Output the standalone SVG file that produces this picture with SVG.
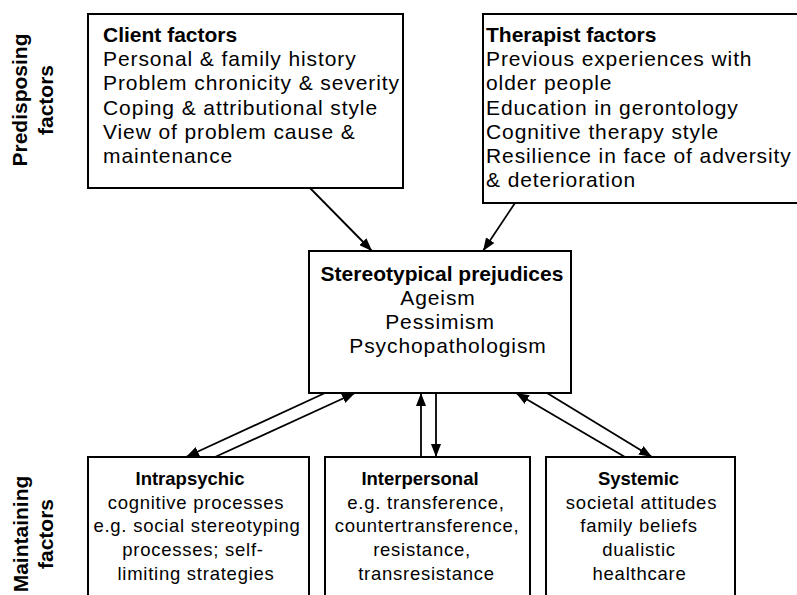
<svg xmlns="http://www.w3.org/2000/svg" width="797" height="595" viewBox="0 0 797 595">
<style>
.box{fill:#fff;stroke:#000;stroke-width:2}
text{font-family:"Liberation Sans",Arial,sans-serif;fill:#000}
.h{font-weight:bold;font-size:21px}
.t{font-size:21px;letter-spacing:0.9px}
.hs{font-weight:bold;font-size:18.5px}
.ts{font-size:18.5px;letter-spacing:0.75px}
.c{text-anchor:middle}
.side{font-weight:bold;font-size:21px;text-anchor:middle}
.arr{stroke:#000;stroke-width:1.8;fill:none;marker-end:url(#ah)}
</style>
<defs>
<marker id="ah" viewBox="0 0 13 10" refX="13" refY="5" markerWidth="13" markerHeight="10" markerUnits="userSpaceOnUse" orient="auto">
<path d="M0,0 L13,5 L0,10 z" fill="#000"/>
</marker>
</defs>
<rect width="797" height="595" fill="#fff"/>

<g id="label-predisposing">
<text class="side" transform="rotate(-90 27 100)" x="27" y="100">Predisposing</text>
<text class="side" transform="rotate(-90 53 100)" x="53" y="100">factors</text>
</g>
<g id="label-maintaining">
<text class="side" transform="rotate(-90 28 534)" x="28" y="534">Maintaining</text>
<text class="side" transform="rotate(-90 53 534)" x="53" y="534">factors</text>
</g>

<g id="client">
<rect class="box" x="88" y="14" width="315" height="174"/>
<text class="h" x="103" y="42">Client factors</text>
<text class="t" x="103" y="66">Personal &amp; family history</text>
<text class="t" x="103" y="90">Problem chronicity &amp; severity</text>
<text class="t" x="103" y="115">Coping &amp; attributional style</text>
<text class="t" x="103" y="139">View of problem cause &amp;</text>
<text class="t" x="103" y="163">maintenance</text>
</g>

<g id="therapist">
<rect class="box" x="483" y="14" width="320" height="189"/>
<text class="h" x="486" y="42">Therapist factors</text>
<text class="t" x="486" y="66">Previous experiences with</text>
<text class="t" x="486" y="90">older people</text>
<text class="t" x="486" y="115">Education in gerontology</text>
<text class="t" x="486" y="139">Cognitive therapy style</text>
<text class="t" x="486" y="163">Resilience in face of adversity</text>
<text class="t" x="486" y="187">&amp; deterioration</text>
</g>

<g id="prejudices">
<rect class="box" x="309" y="251" width="262" height="142"/>
<text class="h c" x="442" y="281">Stereotypical prejudices</text>
<text class="t c" x="438" y="305">Ageism</text>
<text class="t c" x="440" y="329">Pessimism</text>
<text class="t c" x="448" y="353">Psychopathologism</text>
</g>

<g id="intrapsychic">
<rect class="box" x="88" y="457" width="221" height="160"/>
<text class="hs c" x="190" y="485">Intrapsychic</text>
<text class="ts c" x="196" y="508.5">cognitive processes</text>
<text class="ts c" x="197" y="532">e.g. social stereotyping</text>
<text class="ts c" x="193" y="556">processes; self-</text>
<text class="ts c" x="196" y="580">limiting strategies</text>
</g>

<g id="interpersonal">
<rect class="box" x="325" y="457" width="205" height="160"/>
<text class="hs c" x="420" y="485">Interpersonal</text>
<text class="ts c" x="426" y="508.5">e.g. transference,</text>
<text class="ts c" x="427" y="532">countertransference,</text>
<text class="ts c" x="422" y="556">resistance,</text>
<text class="ts c" x="426.5" y="580">transresistance</text>
</g>

<g id="systemic">
<rect class="box" x="546" y="457" width="189" height="160"/>
<text class="hs c" x="638.5" y="485">Systemic</text>
<text class="ts c" x="641.5" y="508.5">societal attitudes</text>
<text class="ts c" x="639" y="532">family beliefs</text>
<text class="ts c" x="639" y="556">dualistic</text>
<text class="ts c" x="639.5" y="580">healthcare</text>
</g>

<g id="connectors">
<line class="arr" x1="310" y1="188" x2="372" y2="251"/>
<line class="arr" x1="515" y1="203" x2="483" y2="251"/>
<line class="arr" x1="325" y1="393" x2="186" y2="457"/>
<line class="arr" x1="215" y1="457" x2="355" y2="393"/>
<line class="arr" x1="421" y1="457" x2="421" y2="393"/>
<line class="arr" x1="436" y1="393" x2="436" y2="457"/>
<line class="arr" x1="625" y1="457" x2="516" y2="393"/>
<line class="arr" x1="547" y1="393" x2="652" y2="457"/>
</g>
</svg>
